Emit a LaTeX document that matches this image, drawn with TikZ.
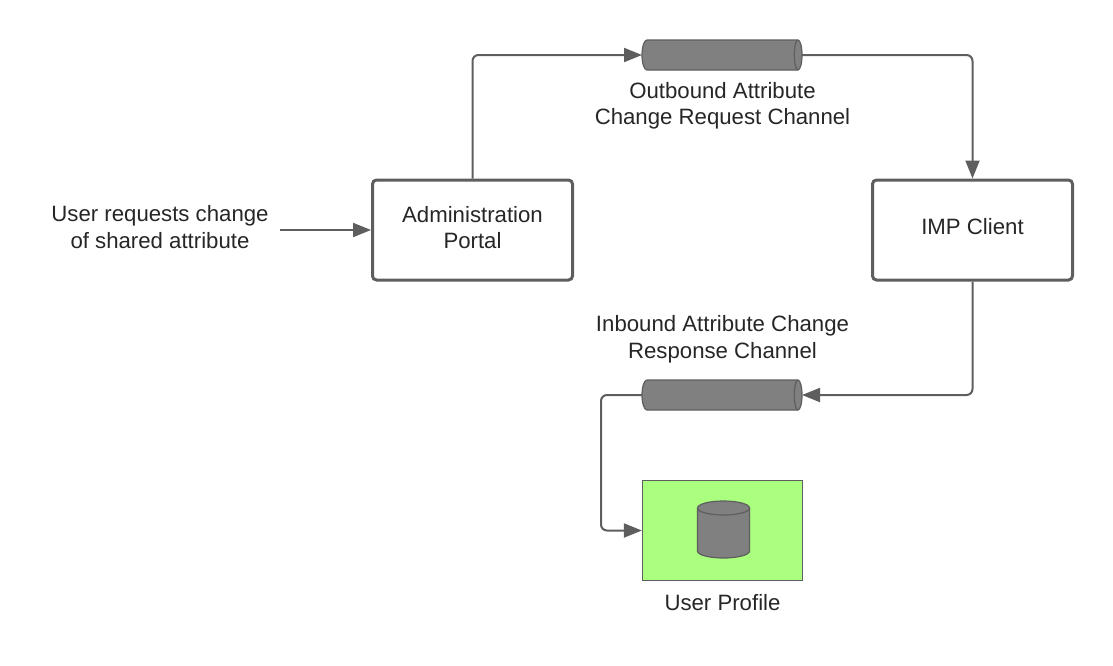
\documentclass[tikz,border=0pt]{standalone}
\usepackage{fontspec}
\setmainfont{Liberation Sans}
\usetikzlibrary{arrows.meta}
\definecolor{lead}{HTML}{5E5E5E}
\definecolor{pipefill}{HTML}{808080}
\definecolor{profilegreen}{HTML}{ABFF7F}
\tikzset{
  x=1pt,y=-1pt,
  label text/.style={font=\fontsize{22.2}{26.6}\selectfont,text=black!85,align=center,inner sep=0pt},
  procbox/.style={draw=lead,line width=3pt,rounded corners=4pt,fill=white,minimum width=200pt,minimum height=100pt,inner sep=0pt,outer sep=1.5pt},
  anchorbox/.style={minimum width=160pt,minimum height=30pt,inner sep=0pt,outer sep=0pt},
  solid shape/.style={draw=lead,line width=1.2pt,fill=pipefill},
  link/.style={draw=lead,line width=2pt,rounded corners=6pt,-{Triangle[length=18pt,width=14pt,fill=lead]}},
}
\newcommand{\pipeshape}[1]{%
  \begin{scope}[shift={(#1.center)}]
    \path[solid shape] (-75,-15) -- (76,-15)
      .. controls (78.2,-15) and (80,-8.3) .. (80,0)
      .. controls (80,8.3) and (78.2,15) .. (76,15)
      -- (-75,15)
      .. controls (-77.8,15) and (-80,8.3) .. (-80,0)
      .. controls (-80,-8.3) and (-77.8,-15) .. (-75,-15) -- cycle;
    \draw[draw=lead,line width=1.2pt] (76,-15)
      .. controls (73.8,-15) and (72.3,-8.3) .. (72.3,0)
      .. controls (72.3,8.3) and (73.8,15) .. (76,15);
  \end{scope}}
\begin{document}
\begin{tikzpicture}
\useasboundingbox (0,0) rectangle (1113,665);
\node[label text,inner xsep=11.5pt] (req) at (160,227) {User requests change\\of shared attribute};
\node[procbox] (adm) at (472.5,230) {};
\node[label text] (admlbl) at (472.5,227.5) {Administration\\Portal};
\node[procbox] (imp) at (972.5,230) {};
\node[label text] (implbl) at (972.5,226.7) {IMP Client};
\node[anchorbox] (outq) at (722,55) {};
\node[anchorbox] (inq) at (722,395) {};
\pipeshape{outq}
\pipeshape{inq}
\node[label text] (outlbl) at (722.5,105.7) {Outbound Attribute\\Change Request Channel};
\node[label text] (inlbl) at (722.5,339.3) {Inbound Attribute Change\\Response Channel};
\node[draw=lead,line width=1.2pt,fill=profilegreen,minimum width=160pt,minimum height=100pt,inner sep=0pt,outer sep=0.6pt] (profile) at (722.5,530.5) {};
\begin{scope}[shift={(723.5,529.5)}]
  \path[solid shape] (-26,-21.5)
    .. controls (-26,-25.4) and (-14.4,-28.5) .. (0,-28.5)
    .. controls (14.4,-28.5) and (26,-25.4) .. (26,-21.5)
    -- (26,21.5)
    .. controls (26,25.4) and (14.4,28.5) .. (0,28.5)
    .. controls (-14.4,28.5) and (-26,25.4) .. (-26,21.5) -- cycle;
  \draw[draw=lead,line width=1.2pt] (-26,-21.5)
    .. controls (-26,-17.6) and (-14.4,-14.5) .. (0,-14.5)
    .. controls (14.4,-14.5) and (26,-17.6) .. (26,-21.5);
\end{scope}
\node[label text] (proflbl) at (722.5,602.5) {User Profile};
\coordinate (bend) at (601,395);
\draw[link] (req.east |- adm.west) -- (adm.west);
\draw[link] (adm.north) |- (outq.west);
\draw[link] (outq.east) -| (imp.north);
\draw[link] (imp.south) |- (inq.east);
\draw[link] (inq.west) -- (bend) |- (profile.west);
\end{tikzpicture}
\end{document}
